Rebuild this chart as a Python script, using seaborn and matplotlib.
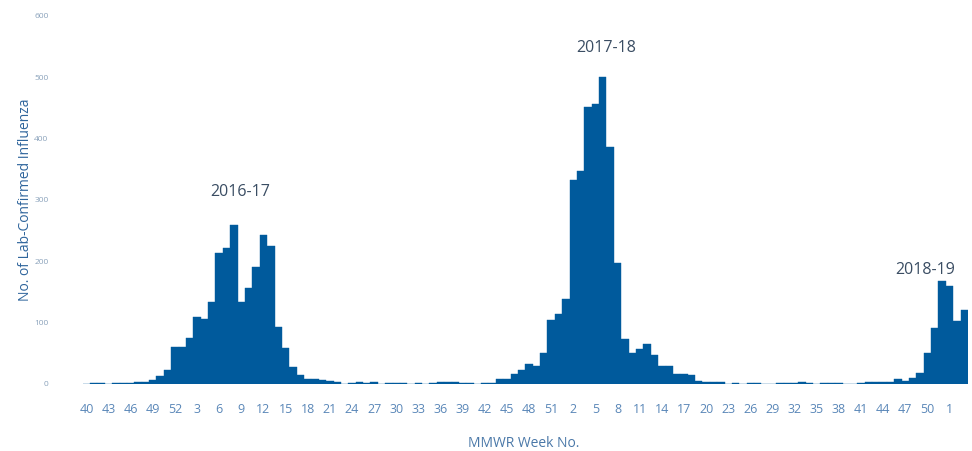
import matplotlib
matplotlib.use("Agg")
import matplotlib.pyplot as plt
import seaborn as sns
import pandas as pd

# MMWR week categories: 2016 wk40 .. 2019 wk3
weeks_2016 = list(range(40, 53))
weeks_2017 = list(range(1, 53))
weeks_2018 = list(range(1, 53))
weeks_2019 = [1, 2, 3]
weeks = weeks_2016 + weeks_2017 + weeks_2018 + weeks_2019

counts = [
    0, 2, 2, 0, 2, 2, 2, 3, 4, 6, 13, 23, 60,                 # 2016 wk40-52
    61, 75, 110, 106, 134, 213, 222, 259, 134, 157, 191, 243, 225, 93, 58, 28,
    14, 8, 8, 7, 5, 4, 0, 2, 3, 2, 3, 0, 1, 1, 1, 0, 1, 0, 2, 3, 4, 3, 2, 2,
    0, 1, 2, 8, 8, 17, 23, 33, 29, 50, 105, 114,              # 2017 wk1-52
    138, 333, 348, 452, 457, 501, 387, 197, 73, 50, 57, 65, 47, 29, 29, 17,
    17, 15, 5, 3, 3, 3, 0, 1, 0, 1, 1, 0, 0, 2, 2, 2, 3, 2, 0, 1, 1, 1,
    0, 0, 2, 3, 3, 3, 3, 8, 5, 10, 18, 51, 91, 168,           # 2018 wk1-52
    160, 103, 121,                                            # 2019 wk1-3
]

annotations = [("2016-17", 20.9, 313), ("2017-18", 70.4, 548), ("2018-19", 113.7, 186)]

bar_color = "#005a9c"

df = pd.DataFrame({"idx": list(range(len(counts))), "count": counts})

sns.set_theme(style="white")
plt.rcParams["font.family"] = ["Open Sans", "DejaVu Sans"]

fig = plt.figure(figsize=(9.72, 4.51), dpi=100)
ax = fig.add_axes([79 / 972, 67 / 451, 889 / 972, 368 / 451])

sns.barplot(data=df, x="idx", y="count", color=bar_color, saturation=1,
            width=1.0, linewidth=0.3, edgecolor=bar_color, ax=ax, order=df["idx"])

ax.set_xlim(-1.0, 119.5)
ax.set_ylim(0, 600)
for s in ax.spines.values():
    s.set_visible(False)

tick_pos = list(range(0, len(weeks), 3))
ax.set_xticks(tick_pos)
ax.set_xticklabels([str(weeks[i]) for i in tick_pos], fontsize=9, color="#5a87b8")
ax.set_yticks([0, 100, 200, 300, 400, 500, 600])
ax.set_yticklabels(["0", "100", "200", "300", "400", "500", "600"], fontsize=6, color="#8aa2bb")
ax.tick_params(axis="x", length=0, pad=14)
ax.tick_params(axis="y", length=0, pad=22)

ax.set_xlabel("MMWR Week No.", fontsize=10, color="#4a78a8", labelpad=14)
ax.set_ylabel("No. of Lab-Confirmed Influenza", fontsize=10, color="#2f659c", labelpad=1)

for txt, xv, yv in annotations:
    ax.text(xv, yv, txt, ha="center", va="center", fontsize=11.5, color="#3a4d63")

fig.savefig("out.png", dpi=100)
